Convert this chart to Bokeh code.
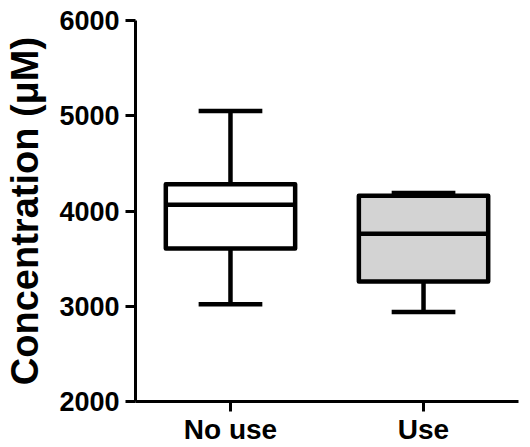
from bokeh.plotting import figure
from bokeh.models import Range1d, FixedTicker
from bokeh.embed import file_html
from bokeh.resources import INLINE

# Data
categories = ["No use", "Use"]
lower_whisker = [3020, 2940]
q1 = [3605, 3260]
median = [4065, 3760]
q3 = [4280, 4160]
upper_whisker = [5050, 4190]
fill_colors = ["#FFFFFF", "#D3D3D3"]
y_ticks = [2000, 3000, 4000, 5000, 6000]

FONT = "Liberation Sans"
xs = [i + 1 for i in range(len(categories))]
box_w = 0.67
cap_w = 0.33
lw = 4.5

p = figure(width=530, height=447, output_backend="svg", toolbar_location=None,
           x_range=Range1d(0.508, 2.492), y_range=Range1d(2000, 6000),
           min_border_left=135, min_border_right=12, min_border_top=20, min_border_bottom=0)
p.outline_line_color = None
p.xgrid.visible = False
p.ygrid.visible = False
p.background_fill_color = "white"
p.border_fill_color = "white"

# whisker stems
p.segment(x0=xs, y0=q3, x1=xs, y1=upper_whisker, line_color="black", line_width=lw)
p.segment(x0=xs, y0=q1, x1=xs, y1=lower_whisker, line_color="black", line_width=lw)
# caps
p.segment(x0=[x - cap_w / 2 for x in xs], y0=upper_whisker, x1=[x + cap_w / 2 for x in xs], y1=upper_whisker,
          line_color="black", line_width=lw)
p.segment(x0=[x - cap_w / 2 for x in xs], y0=lower_whisker, x1=[x + cap_w / 2 for x in xs], y1=lower_whisker,
          line_color="black", line_width=lw)
# boxes
p.vbar(x=xs, width=box_w, bottom=q1, top=q3, fill_color=fill_colors, line_color="black",
       line_width=lw, line_join="round")
# medians
p.segment(x0=[x - box_w / 2 for x in xs], y0=median, x1=[x + box_w / 2 for x in xs], y1=median,
          line_color="black", line_width=lw)

# axes
for ax in (p.xaxis[0], p.yaxis[0]):
    ax.axis_line_width = 3
    ax.axis_line_color = "black"
    ax.major_tick_line_width = 3
    ax.major_tick_line_color = "black"
    ax.major_tick_out = 10
    ax.major_tick_in = 0
    ax.minor_tick_line_color = None
    ax.major_label_text_font = FONT
    ax.major_label_text_font_style = "bold"
    ax.major_label_text_color = "black"

p.yaxis[0].ticker = FixedTicker(ticks=y_ticks)
p.yaxis[0].major_label_text_font_size = "27px"
p.yaxis[0].major_label_standoff = 6
p.yaxis[0].axis_label = "Concentration (\u03bcM)"
p.yaxis[0].axis_label_text_font = FONT
p.yaxis[0].axis_label_text_font_style = "bold"
p.yaxis[0].axis_label_text_font_size = "38px"
p.yaxis[0].axis_label_text_color = "black"
p.yaxis[0].axis_label_standoff = 10

p.xaxis[0].ticker = FixedTicker(ticks=xs)
p.xaxis[0].major_label_overrides = {x: c for x, c in zip(xs, categories)}
p.xaxis[0].major_label_text_font_size = "28px"
p.xaxis[0].major_label_standoff = 2

open("out.html", "w").write(file_html(p, INLINE))
